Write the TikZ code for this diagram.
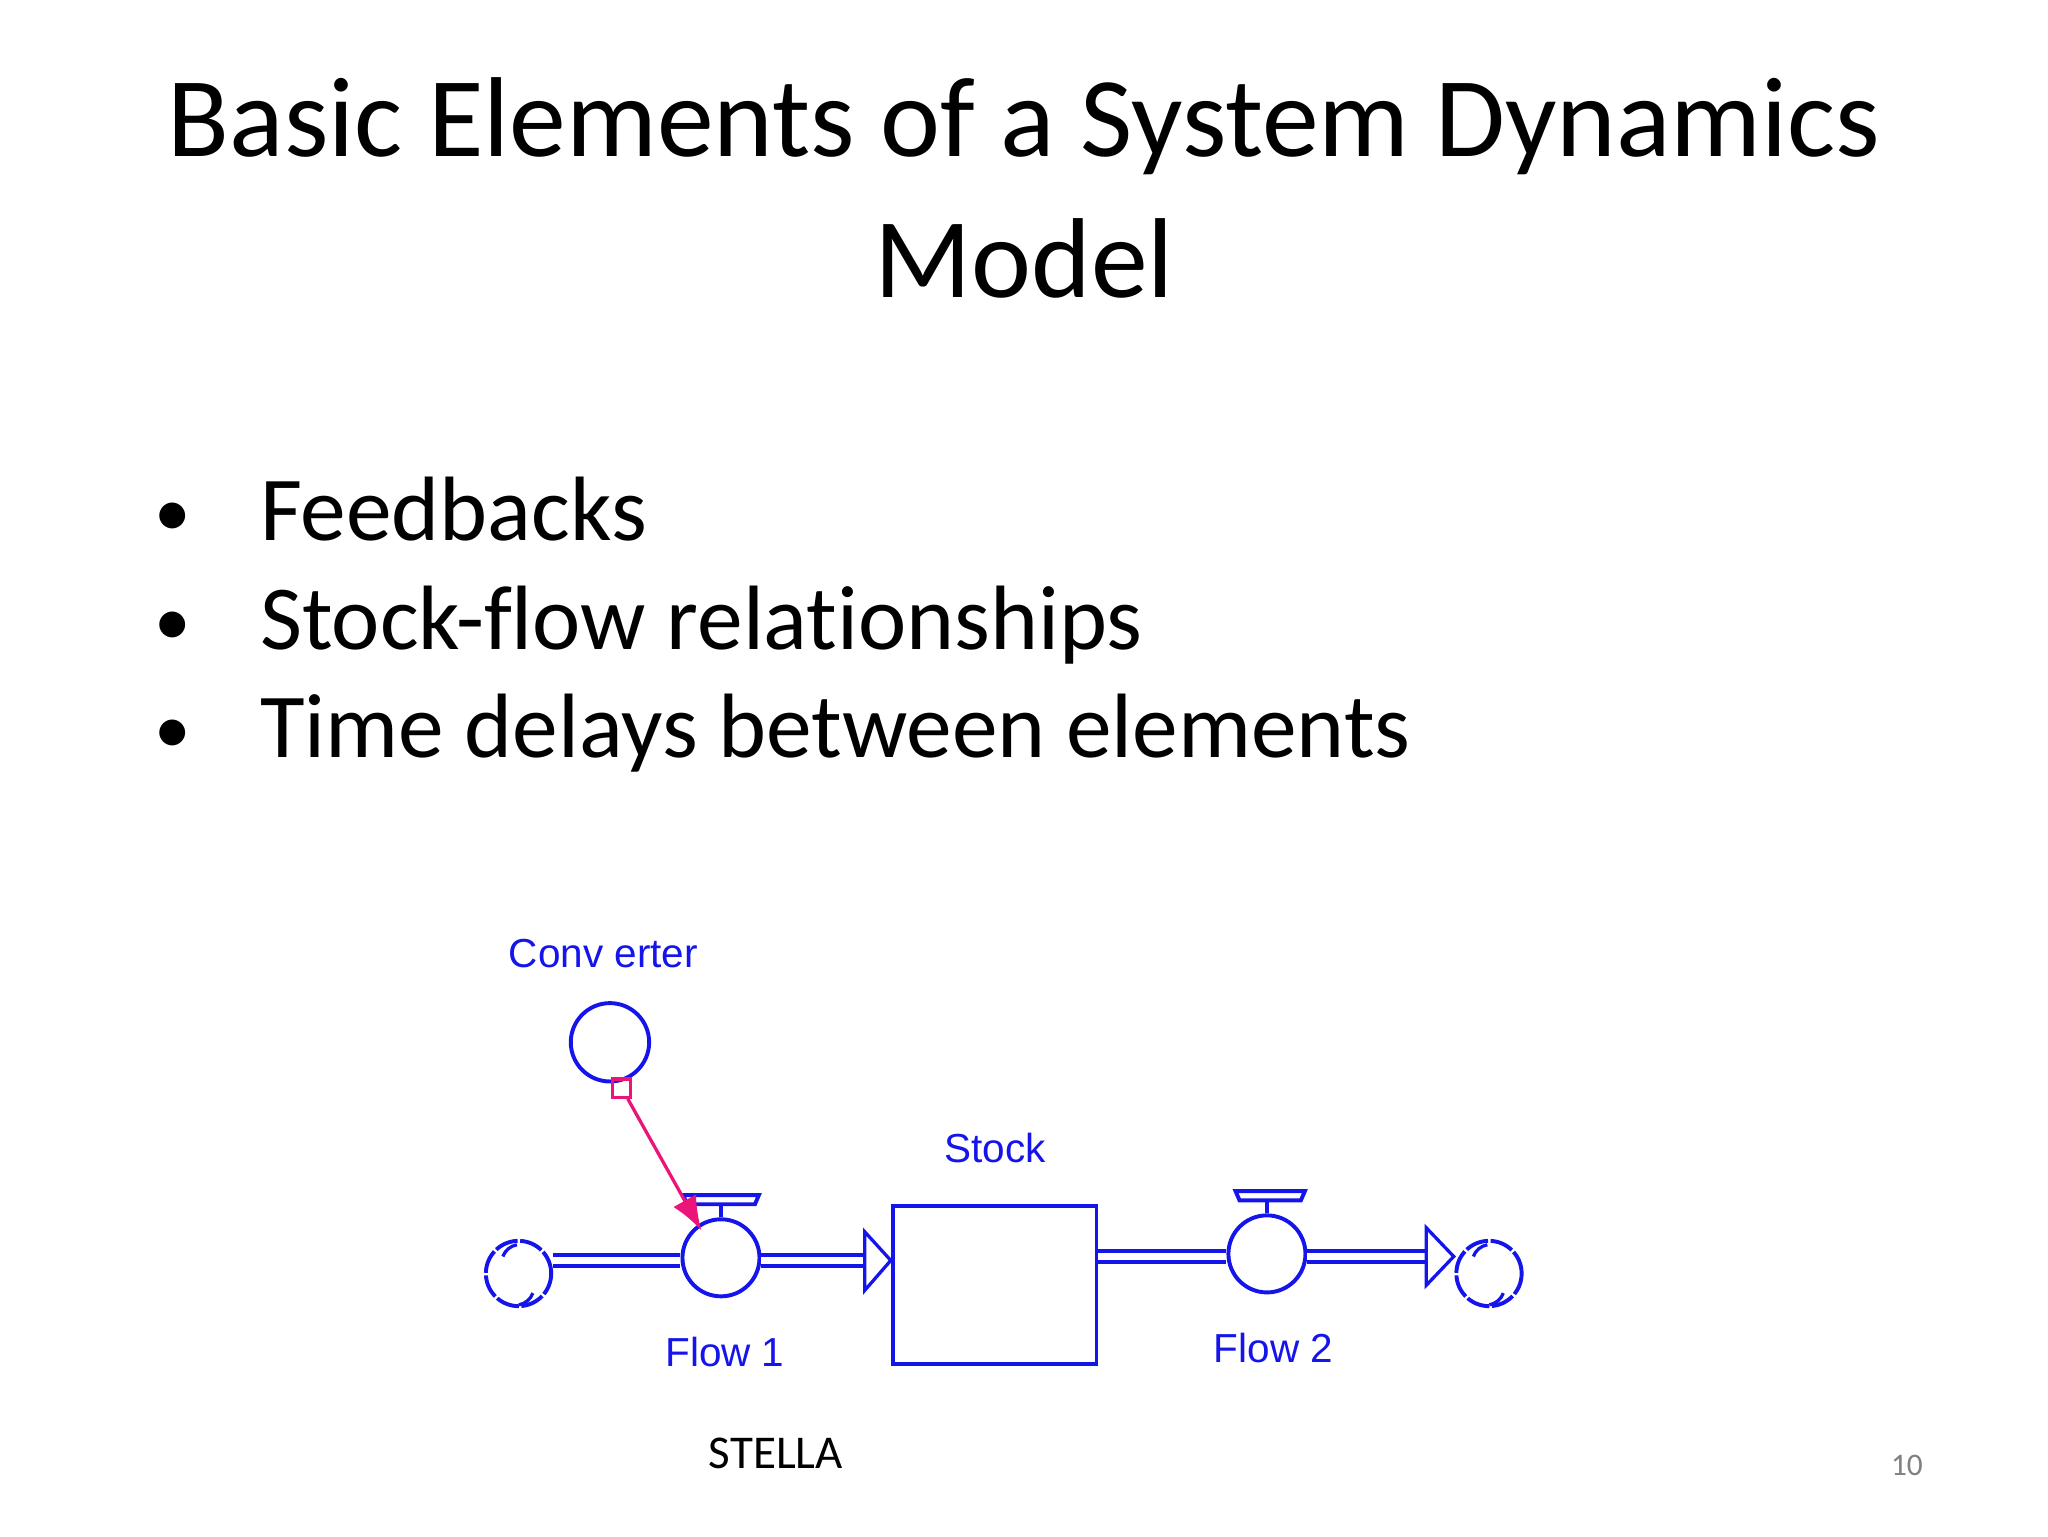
\documentclass[tikz,border=0pt]{standalone}
\usepackage{fontspec}
\setmainfont{Carlito}[Ligatures=NoCommon]
\newfontfamily\arialf{Liberation Sans}
\usetikzlibrary{arrows.meta}
\definecolor{sblue}{RGB}{20,20,235}
\definecolor{spink}{RGB}{235,20,120}
\begin{document}
\begin{tikzpicture}[x=1pt,y=-1pt,
  lbl/.style={text=sblue,font=\arialf\fontsize{31}{36}\selectfont,inner sep=0},
  blt/.style={anchor=base west,font=\fontsize{70}{80}\selectfont,inner sep=0},
  el/.style={draw=sblue,line width=3pt},
  pipe/.style={draw=sblue,line width=3pt,double=white,double distance=5pt},
  cloud/.style={draw=sblue,line width=3pt,circle,minimum size=50pt,inner sep=0,dash pattern=on 18pt off 2pt}]
\useasboundingbox (0,0) rectangle (1568,1176);
\fill[white] (0,0) rectangle (1568,1176);
\node[font=\fontsize{87}{100}\selectfont,inner sep=0] (t1) at (784,97) {Basic Elements of a System Dynamics};
\node[font=\fontsize{87}{100}\selectfont,inner sep=0] (t2) at (784,198) {Model};
\foreach \y/\t [count=\i] in {414/Feedbacks,497/Stock-flow relationships,580/Time delays between elements}{
  \node[blt,font=\fontsize{56}{60}\selectfont] (b\i) at (118,\y-3) {•};
  \node[blt] (bt\i) at (199,\y) {\t};
}
% converter
\node[lbl] (conv) at (462,730) {Conv erter};
\node[el,circle,minimum size=60pt,inner sep=0] (c) at (467,798) {};
% flows
\node[el,circle,minimum size=59pt,inner sep=0,fill=white] (f1) at (552,963) {};
\node[el,circle,minimum size=59pt,inner sep=0,fill=white] (f2) at (970,960) {};
\node[el,rectangle,minimum width=156pt,minimum height=121pt,inner sep=0] (s) at (761.5,983.5) {};
\node[cloud] (cl) at (397,975) {};
\node[cloud] (cr) at (1140,975) {};
\draw[sblue,line width=2.5pt] (385,962) arc (200:260:14) (408,990) arc (20:80:14) (1128,962) arc (200:260:14) (1151,990) arc (20:80:14);
% valves
\draw[el] (f1.north) -- ++(0,-10);
\draw[el,fill=white,line width=3pt] (523,915) -- (581,915) -- (578,922) -- (526,922) -- cycle;
\draw[el] (f2.north) -- ++(0,-10);
\draw[el,fill=white,line width=3pt] (946,912) -- (999,912) -- (996,919) -- (949,919) -- cycle;
% pipes
\coordinate (a1) at (662,965);
\coordinate (a2) at (1092,962);
\draw[pipe] (cl.east |- a1) -- (f1.west |- a1);
\draw[pipe] (f1.east |- a1) -- (a1);
\draw[sblue,line width=2.5pt,fill=white,line join=miter] (662,943) -- (s.west |- a1) -- (662,988) -- cycle;
\draw[pipe] (s.east |- a2) -- (f2.west |- a2);
\draw[pipe] (f2.east |- a2) -- (a2);
\draw[sblue,line width=2.5pt,fill=white] (1092,940) -- (1113,962) -- (1092,984) -- cycle;
% connector
\node[draw=spink,line width=2.5pt,minimum size=14pt,inner sep=0] (sq) at (476,833) {};
\coordinate (tip) at (537,942);
\draw[spink,line width=2.5pt,-{Latex[length=26pt,width=20pt]}] (sq) -- (tip);
% labels
\node[lbl] (st) at (762,879) {Stock};
\node[lbl] (l1) at (555,1035) {Flow 1};
\node[lbl] (l2) at (975,1032) {Flow 2};
\node[font=\fontsize{36}{40}\selectfont,inner sep=0] (stella) at (594,1113) {STELLA};
\node[font=\fontsize{24}{28}\selectfont,text=gray,inner sep=0] (pg) at (1460,1122) {10};
\end{tikzpicture}
\end{document}
